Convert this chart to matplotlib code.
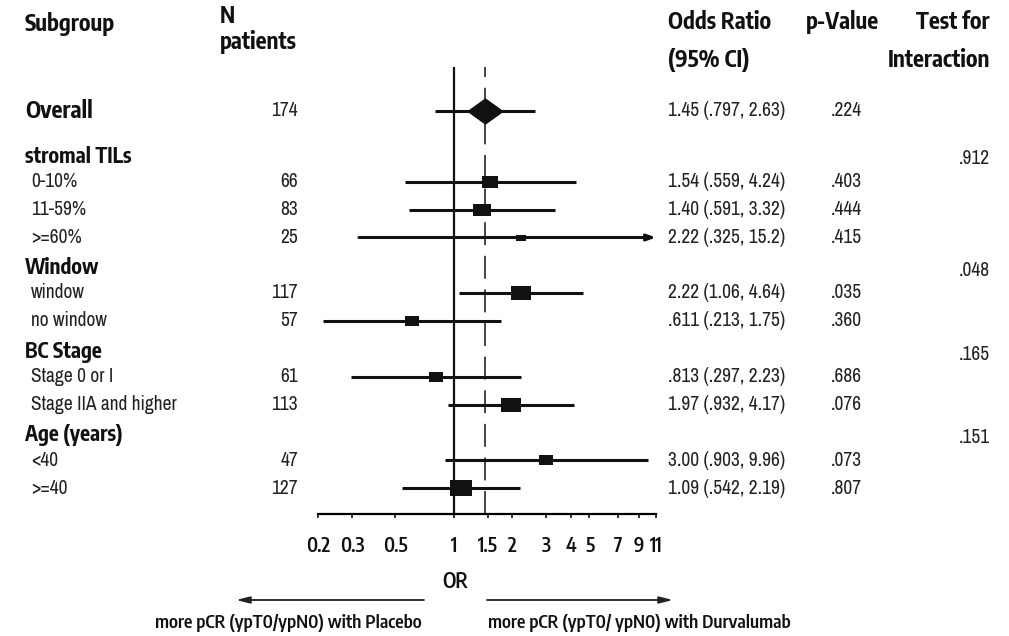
import matplotlib
matplotlib.use("Agg")
import matplotlib.pyplot as plt
from matplotlib.path import Path
from matplotlib.ticker import FixedLocator, FixedFormatter, NullLocator
import numpy as np

plt.rcParams['font.family'] = ['Archivo Narrow', 'Liberation Sans', 'DejaVu Sans']
BOLD_FAM = ['Encode Sans Condensed', 'IBM Plex Sans Condensed', 'Liberation Sans', 'DejaVu Sans']

# ---------------- data ----------------
labels = ["Overall", "stromal TILs", "0-10%", "11-59%", ">=60%", "Window", "window",
          "no window", "BC Stage", "Stage 0 or I", "Stage IIA and higher", "Age (years)",
          "<40", ">=40"]
kinds = ["overall", "header", "item", "item", "item", "header", "item",
         "item", "header", "item", "item", "header", "item", "item"]
n_patients = [174, None, 66, 83, 25, None, 117, 57, None, 61, 113, None, 47, 127]
odds_ratio = [1.45, None, 1.54, 1.40, 2.22, None, 2.22, 0.611, None, 0.813, 1.97, None, 3.00, 1.09]
ci_low = [0.797, None, 0.559, 0.591, 0.325, None, 1.06, 0.213, None, 0.297, 0.932, None, 0.903, 0.542]
ci_high = [2.63, None, 4.24, 3.32, 15.2, None, 4.64, 1.75, None, 2.23, 4.17, None, 9.96, 2.19]
p_values = [0.224, None, 0.403, 0.444, 0.415, None, 0.035, 0.360, None, 0.686, 0.076, None, 0.073, 0.807]
p_interaction = [None, 0.912, None, None, None, 0.048, None, None, 0.165, None, None, 0.151, None, None]
tick_values = [0.2, 0.3, 0.5, 1, 1.5, 2, 3, 4, 5, 7, 9, 11]
tick_labels = ["0.2", "0.3", "0.5", "1", "1.5", "2", "3", "4", "5", "7", "9", "11"]
x_min, x_max = 0.2, 11

# ---------------- helpers ----------------
def fmt3(v):
    if v < 1:
        return f"{v:.3f}"[1:]
    if v < 10:
        return f"{v:.2f}"
    return f"{v:.1f}"

def fmtp(p):
    return f"{p:.3f}"[1:]

W, H = 1009, 636
fig = plt.figure(figsize=(W / 100, H / 100), dpi=100)

# row layout (pixel units, top = 0)
ys = []
y = 111.0
prev = None
for k in kinds:
    if prev is not None:
        if prev == "overall":
            y += 46
        elif prev == "header":
            y += 24.5
        elif k == "header":
            y += 31
        else:
            y += 28
    ys.append(y)
    prev = k

plot_top, plot_bot = 67, 514
x_left, x_right = 318, 656

# overlay axes for text, pixel coordinates
ov = fig.add_axes([0, 0, 1, 1])
ov.set_xlim(0, W)
ov.set_ylim(H, 0)
ov.axis("off")

# forest axes
ax = fig.add_axes([x_left / W, 1 - plot_bot / H, (x_right - x_left) / W, (plot_bot - plot_top) / H])
ax.set_xscale("log")
ax.set_xlim(x_min, x_max)
ax.set_ylim(plot_bot, plot_top)
for s in ["left", "top", "right"]:
    ax.spines[s].set_visible(False)
ax.spines["bottom"].set_linewidth(1.6)
ax.patch.set_alpha(0)
ax.yaxis.set_visible(False)
ax.xaxis.set_major_locator(FixedLocator(tick_values))
ax.xaxis.set_major_formatter(FixedFormatter(tick_labels))
ax.xaxis.set_minor_locator(NullLocator())
ax.tick_params(axis="x", direction="out", length=3, width=1.2, pad=13, labelsize=14,
               colors="#111111")
for lab in ax.get_xticklabels():
    lab.set_family(BOLD_FAM)
    lab.set_fontweight("semibold")

ax.axvline(1, color="#111111", lw=1.6, zorder=1)
ax.axvline(odds_ratio[0], color="#111111", lw=1.1, ls=(0, (15, 7)), zorder=1)

box_path = Path([(-0.5, -0.36), (0.5, -0.36), (0.5, 0.36), (-0.5, 0.36), (-0.5, -0.36)],
                [Path.MOVETO, Path.LINETO, Path.LINETO, Path.LINETO, Path.CLOSEPOLY])
diamond_path = Path([(-0.5, 0), (0, 0.36), (0.5, 0), (0, -0.36), (-0.5, 0)],
                    [Path.MOVETO, Path.LINETO, Path.LINETO, Path.LINETO, Path.CLOSEPOLY])

for i, k in enumerate(kinds):
    if k == "header":
        continue
    yy = ys[i]
    lo, hi, orv = ci_low[i], ci_high[i], odds_ratio[i]
    if hi > x_max:
        ax.annotate("", xy=(x_max, yy), xytext=(lo, yy),
                    arrowprops=dict(arrowstyle="-|>,head_length=0.5,head_width=0.18",
                                    lw=2.2, color="#111111", shrinkA=0, shrinkB=0),
                    annotation_clip=False)
    else:
        ax.plot([lo, hi], [yy, yy], color="#111111", lw=2.2, solid_capstyle="butt", zorder=2)
    if k == "overall":
        ax.plot([orv], [yy], marker=diamond_path, markersize=37 * 0.72, color="#111111",
                mew=0, zorder=3)
    else:
        ms = 1.9 * np.sqrt(n_patients[i]) * 0.72
        ax.plot([orv], [yy], marker=box_path, markersize=ms, color="#111111", mew=0, zorder=3)

# ---------------- texts ----------------
tc = "#111111"
rc = "#222222"
head_fs = 16.3
bold_fs = 15
reg_fs = 14
hb = dict(family=BOLD_FAM, fontweight="bold", color=tc, va="center")
ov.text(25, 24, "Subgroup", fontsize=head_fs, ha="left", **hb)
ov.text(220, 16, "N", fontsize=head_fs, ha="left", **hb)
ov.text(220, 42, "patients", fontsize=head_fs, ha="left", **hb)
ov.text(668, 22, "Odds Ratio", fontsize=head_fs, ha="left", **hb)
ov.text(668, 60, "(95% CI)", fontsize=head_fs, ha="left", **hb)
ov.text(806, 22, "p-Value", fontsize=head_fs, ha="left", **hb)
ov.text(990, 22, "Test for", fontsize=head_fs, ha="right", **hb)
ov.text(990, 60, "Interaction", fontsize=head_fs, ha="right", **hb)

for i, k in enumerate(kinds):
    yy = ys[i]
    if k == "overall":
        ov.text(25, yy, labels[i], fontsize=16.5, ha="left", **hb)
    elif k == "header":
        ov.text(25, yy, labels[i], fontsize=bold_fs, ha="left", **hb)
    else:
        ov.text(31, yy, labels[i], fontsize=reg_fs, va="center", ha="left", color=rc)
    if n_patients[i] is not None:
        ov.text(298, yy, str(n_patients[i]), fontsize=reg_fs, va="center", ha="right", color=rc)
    if odds_ratio[i] is not None:
        s = f"{fmt3(odds_ratio[i])} ({fmt3(ci_low[i])}, {fmt3(ci_high[i])})"
        ov.text(668, yy, s, fontsize=reg_fs, va="center", ha="left", color=rc)
    if p_values[i] is not None:
        ov.text(862, yy, fmtp(p_values[i]), fontsize=reg_fs, va="center", ha="right", color=rc)
    if p_interaction[i] is not None:
        ov.text(990, yy + 2, fmtp(p_interaction[i]), fontsize=reg_fs, va="center", ha="right",
                color=rc)

mb = dict(family=BOLD_FAM, fontweight="semibold", color=tc, va="center")
ov.text(455, 582, "OR", fontsize=15, ha="center", **mb)
ov.annotate("", xy=(236, 600), xytext=(424, 600),
            arrowprops=dict(arrowstyle="-|>,head_length=0.8,head_width=0.2", lw=1.3,
                            color="#222222", shrinkA=0, shrinkB=0))
ov.annotate("", xy=(673, 600), xytext=(487, 600),
            arrowprops=dict(arrowstyle="-|>,head_length=0.8,head_width=0.2", lw=1.3,
                            color="#222222", shrinkA=0, shrinkB=0))
ov.text(288, 623, "more pCR (ypT0/ypN0) with Placebo", fontsize=13, ha="center", **mb)
ov.text(488, 623, "more pCR (ypT0/ ypN0) with Durvalumab", fontsize=13, ha="left", **mb)

fig.savefig("out.png", dpi=100)
